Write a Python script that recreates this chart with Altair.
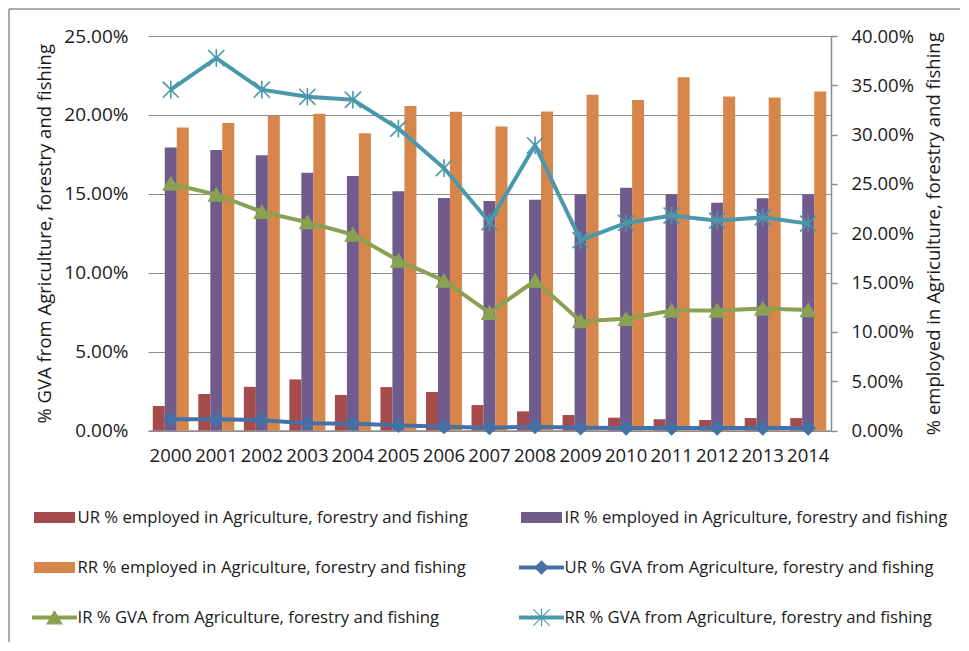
import altair as alt
import pandas as pd

years = [str(y) for y in range(2000, 2015)]

# % employed in Agriculture, forestry and fishing (right axis)
ur_emp = [0.0248, 0.0370, 0.0443, 0.0518, 0.0360, 0.0440, 0.0390, 0.0258, 0.0194, 0.0157, 0.0130, 0.0114, 0.0106, 0.0126, 0.0126]
ir_emp = [0.2870, 0.2843, 0.2790, 0.2614, 0.2580, 0.2426, 0.2357, 0.2328, 0.2340, 0.2395, 0.2462, 0.2395, 0.2310, 0.2355, 0.2395]
rr_emp = [0.3072, 0.3117, 0.3192, 0.3211, 0.3013, 0.3290, 0.3232, 0.3083, 0.3235, 0.3405, 0.3350, 0.3582, 0.3387, 0.3376, 0.3438]

# % GVA from Agriculture, forestry and fishing (left axis)
ur_gva = [0.0071, 0.0071, 0.0065, 0.0046, 0.0043, 0.0033, 0.0024, 0.0018, 0.0024, 0.0017, 0.0016, 0.0016, 0.0016, 0.0016, 0.0016]
ir_gva = [0.1564, 0.1495, 0.1385, 0.1320, 0.1242, 0.1077, 0.0950, 0.0746, 0.0950, 0.0693, 0.0708, 0.0760, 0.0760, 0.0773, 0.0763]
rr_gva = [0.2160, 0.2360, 0.2160, 0.2115, 0.2096, 0.1913, 0.1663, 0.1320, 0.1807, 0.1206, 0.1315, 0.1362, 0.1330, 0.1351, 0.1311]

emp_names = [
    "UR % employed in Agriculture, forestry and fishing",
    "IR % employed in Agriculture, forestry and fishing",
    "RR % employed in Agriculture, forestry and fishing",
]
gva_names = [
    "UR % GVA from Agriculture, forestry and fishing",
    "IR % GVA from Agriculture, forestry and fishing",
    "RR % GVA from Agriculture, forestry and fishing",
]
emp_colors = ["#a54b4b", "#705b8d", "#d6864a"]
gva_colors = ["#4571a6", "#8ba152", "#4a98ab"]
STAR = "M-1,-1L1,1M-1,1L1,-1M0,-1.1L0,1.1"
gva_shapes = ["diamond", "triangle-up", STAR]

left_ticks = [0, 0.05, 0.10, 0.15, 0.20, 0.25]
right_ticks = [0, 0.05, 0.10, 0.15, 0.20, 0.25, 0.30, 0.35, 0.40]

# legend layout (2 columns x 3 rows, as in the reference)
leg_labels = [emp_names[0], emp_names[1], emp_names[2], gva_names[0], gva_names[1], gva_names[2]]
leg_col = [0, 1, 0, 1, 0, 1]
leg_row = [0, 0, 1, 1, 2, 2]
leg_kind = ["bar", "bar", "bar", "line", "line", "line"]

emp_df = pd.DataFrame(
    [{"year": y, "series": n, "value": v}
     for n, vals in zip(emp_names, [ur_emp, ir_emp, rr_emp])
     for y, v in zip(years, vals)]
)
gva_df = pd.DataFrame(
    [{"year": y, "series": n, "value": v}
     for n, vals in zip(gva_names, [ur_gva, ir_gva, rr_gva])
     for y, v in zip(years, vals)]
)
leg_df = pd.DataFrame({"label": leg_labels, "col": leg_col, "row": leg_row, "kind": leg_kind})

FONT = "Open Sans"
TXT = "#1a1a1a"
GRID = "#8c8c8c"
FS = 18.5
NOVIEW = alt.ViewBackground(stroke="transparent", strokeWidth=0)

x_enc = alt.X(
    "year:N", sort=years, title=None,
    scale=alt.Scale(paddingInner=0.21, paddingOuter=0.105),
    axis=alt.Axis(labelAngle=0, ticks=False, grid=False, domainColor=GRID, domainWidth=1.5,
                  labelPadding=16, labelFontSize=FS, labelFont=FONT, labelColor=TXT),
)

bars = alt.Chart(emp_df).mark_bar().encode(
    x=x_enc,
    xOffset=alt.XOffset("series:N", sort=emp_names, scale=alt.Scale(domain=emp_names)),
    y=alt.Y("value:Q", scale=alt.Scale(domain=[0, 0.4]),
            axis=alt.Axis(orient="right", format=".2%", values=right_ticks, grid=False,
                          domainColor=GRID, domainWidth=1.5, tickColor=GRID, tickWidth=1.5, tickSize=6,
                          labelPadding=14, labelFontSize=FS, labelFont=FONT, labelColor=TXT,
                          title="% employed in Agriculture, forestry and fishing",
                          titleAngle=270, titleBaseline="top", titlePadding=11, titleFontSize=FS,
                          titleFont=FONT, titleFontWeight="normal", titleColor=TXT)),
    color=alt.Color("series:N", scale=alt.Scale(domain=emp_names, range=emp_colors), legend=None),
)

y_gva = alt.Y("value:Q", scale=alt.Scale(domain=[0, 0.25]),
              axis=alt.Axis(orient="left", format=".2%", values=left_ticks, grid=True,
                            gridColor=GRID, gridWidth=1, domain=False, ticks=False,
                            labelPadding=20, labelFontSize=19, labelFont=FONT, labelColor=TXT,
                            title="% GVA from Agriculture, forestry and fishing",
                            titlePadding=9, titleFontSize=FS, titleFont=FONT,
                            titleFontWeight="normal", titleColor=TXT))

gva_color = alt.Color("series:N", scale=alt.Scale(domain=gva_names, range=gva_colors), legend=None)

lines = alt.Chart(gva_df).mark_line(strokeWidth=4).encode(
    x=x_enc, y=y_gva, color=gva_color, detail="series:N"
)
points = alt.Chart(gva_df).mark_point(filled=True, strokeWidth=1.6, opacity=1).encode(
    x=x_enc, y=y_gva, color=gva_color,
    stroke=alt.Stroke("series:N", scale=alt.Scale(domain=gva_names, range=gva_colors), legend=None),
    shape=alt.Shape("series:N", scale=alt.Scale(domain=gva_names, range=gva_shapes), legend=None),
    size=alt.Size("series:N", scale=alt.Scale(domain=gva_names, range=[170, 260, 240]), legend=None),
)

gva_layer = alt.layer(lines, points)

one = pd.DataFrame({"a": [0]})
border_top = alt.Chart(one).mark_rule(color="#8f8f8f", strokeWidth=1.5).encode(
    x=alt.value(-139), x2=alt.value(812), y=alt.value(-27)
)
border_left = alt.Chart(one).mark_rule(color="#8f8f8f", strokeWidth=1.5).encode(
    x=alt.value(-139), y=alt.value(-27), y2=alt.value(606)
)

main = alt.layer(bars, gva_layer, border_top, border_left).resolve_scale(
    y="independent", color="independent"
).properties(width=683, height=394.5, view=NOVIEW)

# ---- legend panel ----
lx = alt.X("col:Q", scale=alt.Scale(domain=[0, 1], range=[-114, 373]), axis=None)
ly = alt.Y("row:Q", scale=alt.Scale(domain=[-0.5, 2.5], reverse=True), axis=None)
all_colors = emp_colors + gva_colors
leg_color = alt.Color("label:N", scale=alt.Scale(domain=leg_labels, range=all_colors), legend=None)

leg_bar = alt.Chart(leg_df).transform_filter(alt.datum.kind == "bar").mark_rule(
    strokeWidth=11, x2Offset=41
).encode(x=lx, x2="col:Q", y=ly, color=leg_color)

leg_line = alt.Chart(leg_df).transform_filter(alt.datum.kind == "line").mark_rule(
    strokeWidth=4, xOffset=-2, x2Offset=43
).encode(x=lx, x2="col:Q", y=ly, color=leg_color)

leg_pt = alt.Chart(leg_df).transform_filter(alt.datum.kind == "line").mark_point(
    filled=True, strokeWidth=1.2, opacity=1, xOffset=20.5
).encode(
    x=lx, y=ly, color=leg_color,
    stroke=alt.Stroke("label:N", scale=alt.Scale(domain=leg_labels, range=all_colors), legend=None),
    shape=alt.Shape("label:N", scale=alt.Scale(domain=gva_names, range=gva_shapes), legend=None),
    size=alt.Size("label:N", scale=alt.Scale(domain=gva_names, range=[70, 100, 90]), legend=None),
)

leg_text = alt.Chart(leg_df).mark_text(
    align="left", baseline="middle", dx=43.5, fontSize=16.7, font=FONT, color=TXT
).encode(x=lx, y=ly, text="label:N")

legend = alt.layer(leg_bar, leg_line, leg_pt, leg_text).properties(
    width=683, height=150, view=NOVIEW
)

chart = alt.vconcat(main, legend, spacing=61.5, bounds="flush").properties(
    padding=0, background="white"
).configure_view(stroke="transparent", strokeWidth=0).configure(font=FONT)

chart.save("out.html", embed_options={"renderer": "svg", "actions": False})
